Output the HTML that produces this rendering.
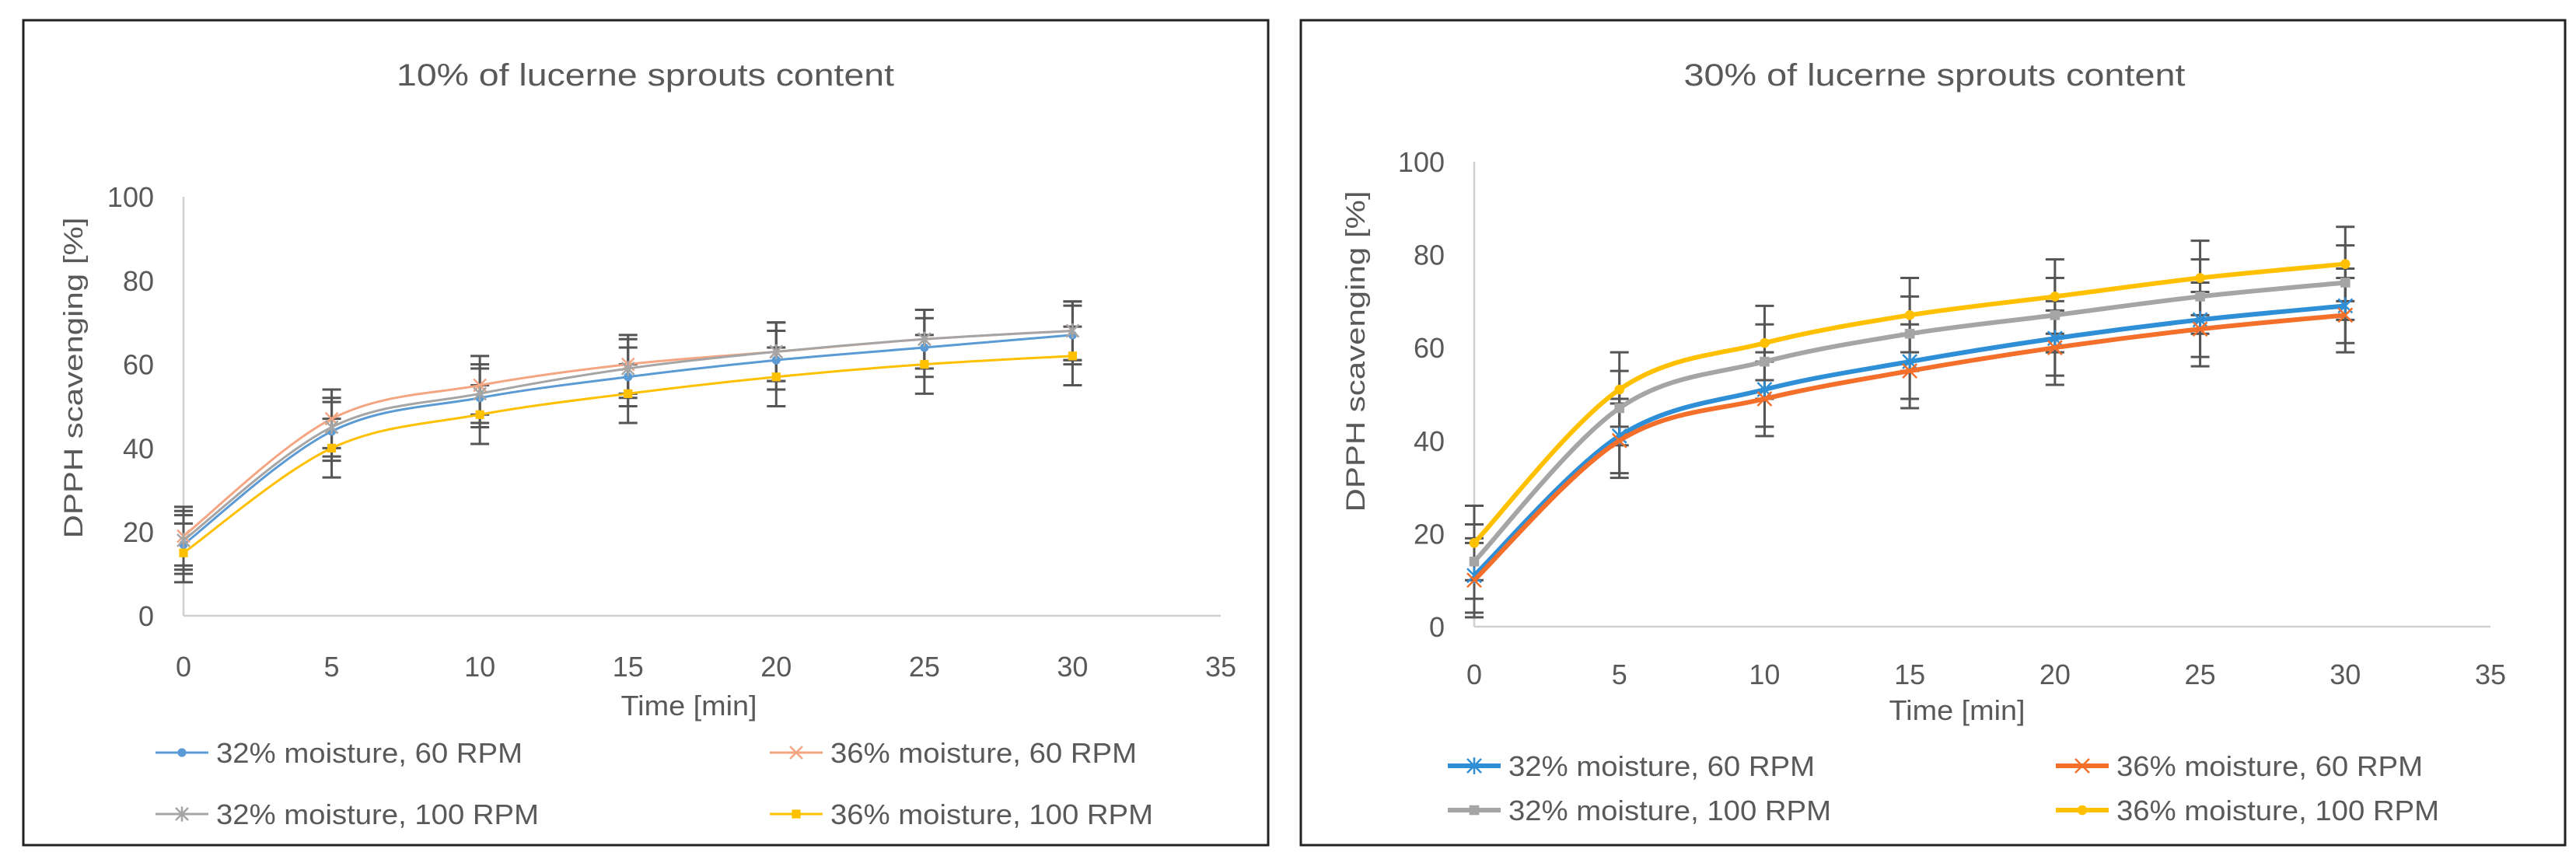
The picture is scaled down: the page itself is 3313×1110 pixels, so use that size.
<!DOCTYPE html>
<html><head><meta charset="utf-8"><style>
html,body{margin:0;padding:0;background:#fff;}
svg{display:block;font-family:"Liberation Sans",sans-serif;}
</style></head><body>
<svg id="fig" width="3313" height="1110" viewBox="0 0 3313 1110" xmlns="http://www.w3.org/2000/svg">
<rect x="0" y="0" width="3313" height="1110" fill="#fff"/>
</svg>
<script>
const times = [0,5,10,15,20,25,30];
const xTicks = [0,5,10,15,20,25,30,35];
const yTicks = [0,20,40,60,80,100];
const seriesNames = ["32% moisture, 60 RPM","36% moisture, 60 RPM","32% moisture, 100 RPM","36% moisture, 100 RPM"];
const left32_60 = [17,44,52,57,61,64,67];
const left36_60 = [19,47,55,60,63,66,68];
const left32_100 = [18,45,53,59,63,66,68];
const left36_100 = [15,40,48,53,57,60,62];
const leftErr = [7,7,7,7,7,7,7];
const right32_60 = [11,41,51,57,62,66,69];
const right36_60 = [10,40,49,55,60,64,67];
const right32_100 = [14,47,57,63,67,71,74];
const right36_100 = [18,51,61,67,71,75,78];
const rightErr = [8,8,8,8,8,8,8];

const NS="http://www.w3.org/2000/svg";
const svg=document.getElementById('fig');
function mk(tag,attrs,parent){const e=document.createElementNS(NS,tag);for(const k in attrs)e.setAttribute(k,attrs[k]);(parent||svg).appendChild(e);return e;}

function smooth(pts){
  let d=`M${pts[0][0]},${pts[0][1]}`;
  for(let i=0;i<pts.length-1;i++){
    const p0=pts[i-1]||pts[i],p1=pts[i],p2=pts[i+1],p3=pts[i+2]||p2;
    const c1=[p1[0]+(p2[0]-p0[0])/6,p1[1]+(p2[1]-p0[1])/6];
    const c2=[p2[0]-(p3[0]-p1[0])/6,p2[1]-(p3[1]-p1[1])/6];
    d+=` C${c1[0]},${c1[1]} ${c2[0]},${c2[1]} ${p2[0]},${p2[1]}`;
  }
  return d;
}
function marker(g,type,x,y,color,s){
  if(type==='dot'){const m=mk('circle',{cx:x,cy:y,r:s*0.7,fill:color},g);}
  else if(type==='square'){const m=mk('rect',{x:x-s*0.7,y:y-s*0.7,width:s*1.4,height:s*1.4,fill:color},g);}
  else {
    let d=`M${x-s},${y-s}L${x+s},${y+s}M${x-s},${y+s}L${x+s},${y-s}`;
    if(type==='star') d+=`M${x},${y-s*1.2}L${x},${y+s*1.2}`;
    const m=mk('path',{d:d,stroke:color,'stroke-width':2.5,fill:'none'},g);
    
  }
}

function panel(cfg){
  const g=mk('g',{});
  
  
  const fr=mk('rect',{x:cfg.bx,y:cfg.by,width:cfg.bw,height:cfg.bh,fill:'none',stroke:'#222','stroke-width':3},g);
  
  const X=v=>cfg.x0+(v/35)*(cfg.x35-cfg.x0);
  const Y=v=>cfg.y0-(v/100)*(cfg.y0-cfg.y100);
  const t=mk('text',{x:cfg.tx,y:cfg.ty,'text-anchor':'middle','font-size':40,fill:'#595959',textLength:cfg.tlen,lengthAdjust:'spacingAndGlyphs'},g);
  t.textContent=cfg.title;
  const ya=mk('line',{x1:X(0),y1:Y(0),x2:X(0),y2:Y(100),stroke:'#d0d0d0','stroke-width':2.5},g);
  
  const xa=mk('line',{x1:X(0),y1:Y(0),x2:X(35),y2:Y(0),stroke:'#d0d0d0','stroke-width':2.5},g);
  
  yTicks.forEach(v=>{const e=mk('text',{x:X(0)-38,y:Y(v)+13,'text-anchor':'end','font-size':36,fill:'#595959'},g);e.textContent=v;});
  xTicks.forEach(v=>{const e=mk('text',{x:X(v),y:cfg.xty,'text-anchor':'middle','font-size':36,fill:'#595959'},g);e.textContent=v;});
  const xt=mk('text',{x:cfg.xtx,y:cfg.xtty,'text-anchor':'middle','font-size':36,fill:'#595959',textLength:175,lengthAdjust:'spacingAndGlyphs'},g);
  xt.textContent='Time [min]';
  const yt=mk('text',{x:0,y:0,'text-anchor':'middle','font-size':34,fill:'#595959',textLength:413,lengthAdjust:'spacingAndGlyphs',transform:`translate(${cfg.ytx},${cfg.yty}) rotate(-90)`},g);
  yt.textContent='DPPH scavenging [%]';
  // error bars
  cfg.series.forEach(s=>{
    if(!s.err) return;
    s.vals.forEach((v,i)=>{
      const x=X(times[i]),e=cfg.err[i];
      const b=mk('path',{d:`M${x},${Y(v-e)}L${x},${Y(v+e)}M${x-12},${Y(v-e)}L${x+12},${Y(v-e)}M${x-12},${Y(v+e)}L${x+12},${Y(v+e)}`,stroke:'#555','stroke-width':3,fill:'none'},g);
      
    });
  });
  cfg.series.forEach(s=>{
    const pts=s.vals.map((v,i)=>[X(times[i]),Y(v)]);
    const p=mk('path',{d:smooth(pts),stroke:s.color,'stroke-width':cfg.lw,fill:'none'},g);
    
    pts.forEach(q=>marker(g,s.marker,q[0],q[1],s.color,cfg.ms));
  });
  cfg.series.forEach((s,i)=>{
    const lx=cfg.legX[i%2],ly=cfg.legY[Math.floor(i/2)];
    const lg=mk('g',{},g);
    mk('line',{x1:lx,y1:ly,x2:lx+68,y2:ly,stroke:s.color,'stroke-width':cfg.lw},lg);
    marker(lg,s.marker,lx+34,ly,s.color,cfg.ms);
    const tx=mk('text',{x:lx+78,y:ly+13,'font-size':36,fill:'#595959',textLength:seriesNames[i].length>20?415:394,lengthAdjust:'spacingAndGlyphs'},lg);
    tx.textContent=seriesNames[i];
  });
}

panel({name:'left-chart',bx:30,by:26,bw:1601,bh:1061,x0:236,x35:1570,y0:792,y100:253,
  tx:830,ty:110,tlen:640,title:'10% of lucerne sprouts content',xty:870,xtx:886,xtty:920,ytx:106,yty:486,
  lw:3,ms:8,err:leftErr,legX:[200,990],legY:[968,1047],
  series:[{vals:left32_60,color:'#5b9bd5',marker:'dot',err:true},{vals:left36_60,color:'#f4a582',marker:'x',err:true},
          {vals:left32_100,color:'#a5a5a5',marker:'star',err:true},{vals:left36_100,color:'#ffc000',marker:'square',err:true}]});
panel({name:'right-chart',bx:1673,by:26,bw:1626,bh:1061,x0:1896,x35:3203,y0:806,y100:208,
  tx:2488,ty:110,tlen:645,title:'30% of lucerne sprouts content',xty:880,xtx:2517,xtty:926,ytx:1755,yty:452,
  lw:6,ms:9,err:rightErr,legX:[1862,2644],legY:[985,1042],
  series:[{vals:right32_60,color:'#2e8ed6',marker:'star',err:true},{vals:right36_60,color:'#f36f2a',marker:'x',err:true},
          {vals:right32_100,color:'#a5a5a5',marker:'square',err:true},{vals:right36_100,color:'#ffc000',marker:'dot',err:true}]});
</script>
</body></html>
